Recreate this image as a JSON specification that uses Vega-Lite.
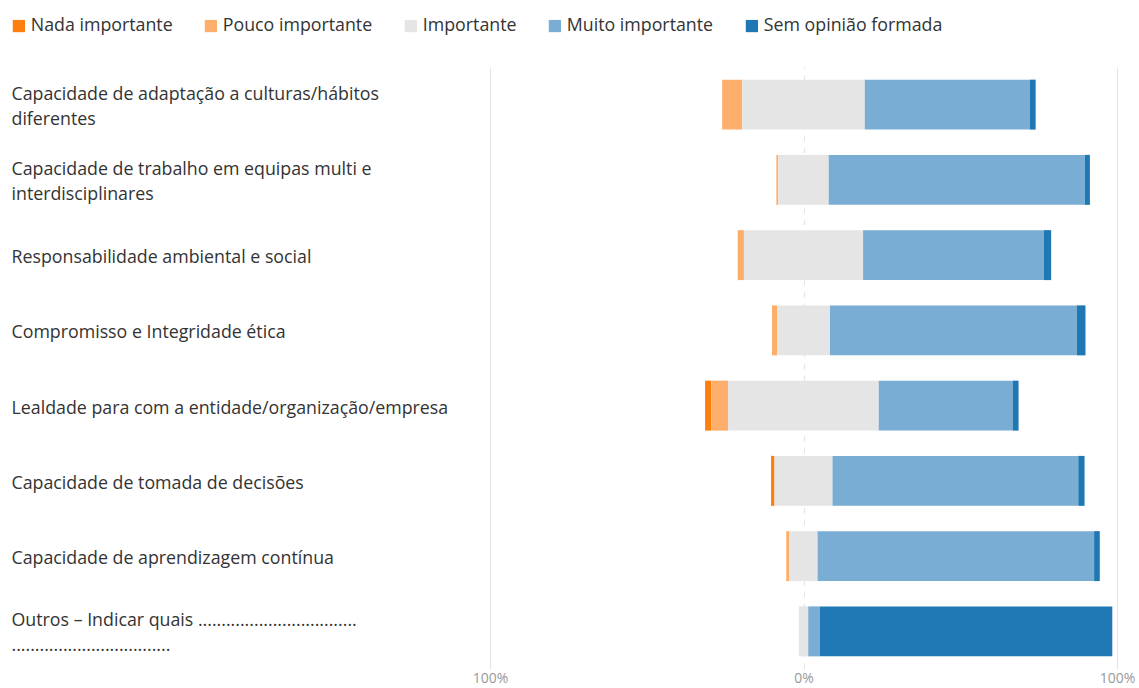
{
  "$schema": "https://vega.github.io/schema/vega-lite/v6.json",
  "width": 627,
  "height": 602,
  "autosize": "none",
  "padding": {"left": 490, "top": 67, "right": 22, "bottom": 19},
  "background": "white",
  "config": {
    "view": {"stroke": null},
    "font": "Open Sans"
  },
  "data": {
    "values": [
      {"q": "Capacidade de adaptação a culturas/hábitos|diferentes", "cat": "Pouco importante", "pct": 6.4},
      {"q": "Capacidade de adaptação a culturas/hábitos|diferentes", "cat": "Importante", "pct": 39.1},
      {"q": "Capacidade de adaptação a culturas/hábitos|diferentes", "cat": "Muito importante", "pct": 52.7},
      {"q": "Capacidade de adaptação a culturas/hábitos|diferentes", "cat": "Sem opinião formada", "pct": 1.8},
      {"q": "Capacidade de trabalho em equipas multi e|interdisciplinares", "cat": "Pouco importante", "pct": 0.6},
      {"q": "Capacidade de trabalho em equipas multi e|interdisciplinares", "cat": "Importante", "pct": 16.1},
      {"q": "Capacidade de trabalho em equipas multi e|interdisciplinares", "cat": "Muito importante", "pct": 81.7},
      {"q": "Capacidade de trabalho em equipas multi e|interdisciplinares", "cat": "Sem opinião formada", "pct": 1.6},
      {"q": "Responsabilidade ambiental e social", "cat": "Pouco importante", "pct": 2.0},
      {"q": "Responsabilidade ambiental e social", "cat": "Importante", "pct": 38.0},
      {"q": "Responsabilidade ambiental e social", "cat": "Muito importante", "pct": 57.7},
      {"q": "Responsabilidade ambiental e social", "cat": "Sem opinião formada", "pct": 2.3},
      {"q": "Compromisso e Integridade ética", "cat": "Pouco importante", "pct": 1.6},
      {"q": "Compromisso e Integridade ética", "cat": "Importante", "pct": 16.9},
      {"q": "Compromisso e Integridade ética", "cat": "Muito importante", "pct": 78.7},
      {"q": "Compromisso e Integridade ética", "cat": "Sem opinião formada", "pct": 2.8},
      {"q": "Lealdade para com a entidade/organização/empresa", "cat": "Nada importante", "pct": 2.0},
      {"q": "Lealdade para com a entidade/organização/empresa", "cat": "Pouco importante", "pct": 5.4},
      {"q": "Lealdade para com a entidade/organização/empresa", "cat": "Importante", "pct": 48.0},
      {"q": "Lealdade para com a entidade/organização/empresa", "cat": "Muito importante", "pct": 42.7},
      {"q": "Lealdade para com a entidade/organização/empresa", "cat": "Sem opinião formada", "pct": 1.9},
      {"q": "Capacidade de tomada de decisões", "cat": "Nada importante", "pct": 1.1},
      {"q": "Capacidade de tomada de decisões", "cat": "Importante", "pct": 18.5},
      {"q": "Capacidade de tomada de decisões", "cat": "Muito importante", "pct": 78.4},
      {"q": "Capacidade de tomada de decisões", "cat": "Sem opinião formada", "pct": 2.0},
      {"q": "Capacidade de aprendizagem contínua", "cat": "Pouco importante", "pct": 1.0},
      {"q": "Capacidade de aprendizagem contínua", "cat": "Importante", "pct": 9.0},
      {"q": "Capacidade de aprendizagem contínua", "cat": "Muito importante", "pct": 88.2},
      {"q": "Capacidade de aprendizagem contínua", "cat": "Sem opinião formada", "pct": 1.8},
      {"q": "Outros – Indicar quais ..................................|..................................", "cat": "Importante", "pct": 3.0},
      {"q": "Outros – Indicar quais ..................................|..................................", "cat": "Muito importante", "pct": 3.7},
      {"q": "Outros – Indicar quais ..................................|..................................", "cat": "Sem opinião formada", "pct": 93.3}
    ]
  },
  "transform": [
    {"calculate": "indexof(['Nada importante','Pouco importante','Importante','Muito importante','Sem opinião formada'], datum.cat)", "as": "ord"},
    {"calculate": "datum.ord < 2 ? datum.pct : (datum.ord == 2 ? datum.pct / 2 : 0)", "as": "esq"},
    {"joinaggregate": [{"op": "sum", "field": "esq", "as": "off"}], "groupby": ["q"]},
    {"stack": "pct", "groupby": ["q"], "sort": [{"field": "ord", "order": "ascending"}], "as": ["s0", "s1"]},
    {"calculate": "datum.s0 - datum.off", "as": "x0"},
    {"calculate": "datum.s1 - datum.off", "as": "x1"}
  ],
  "layer": [
    {
      "mark": {"type": "bar"},
      "encoding": {
        "y": {
          "field": "q", "type": "nominal", "sort": null,
          "scale": {"paddingInner": 0.336, "paddingOuter": 0.168},
          "axis": {
            "title": null, "domain": false, "ticks": false, "grid": false,
            "labelAlign": "left", "labelPadding": 479, "labelLimit": 470,
            "labelFontSize": 17.8, "labelColor": "#333333", "labelFont": "Open Sans",
            "labelExpr": "split(datum.label, '|')", "labelLineHeight": 25,
            "labelBaseline": "middle",
            "labelOffset": {"condition": {"test": "indexof(datum.label, '|') >= 0", "value": -10}, "value": 3}
          }
        },
        "x": {
          "field": "x0", "type": "quantitative",
          "scale": {"domain": [-100, 100], "nice": false},
          "axis": {
            "title": null, "values": [-100, 0, 100], "domain": false, "ticks": false,
            "labelExpr": "abs(datum.value) + '%'", "labelColor": "#999999", "labelFontSize": 14,
            "labelPadding": 2, "labelFont": "Open Sans", "labelFlush": false,
            "gridColor": "#e6e6e6", "gridWidth": 1.2,
            "gridDash": {"condition": {"test": "datum.value == 0", "value": [6, 6]}, "value": []}
          }
        },
        "x2": {"field": "x1"},
        "color": {
          "field": "cat", "type": "nominal",
          "scale": {
            "domain": ["Nada importante", "Pouco importante", "Importante", "Muito importante", "Sem opinião formada"],
            "range": ["#ff7f0e", "#fdae6b", "#e5e5e5", "#7aadd3", "#1f77b4"]
          },
          "legend": {
            "title": null, "orient": "none", "direction": "horizontal",
            "legendX": -480, "legendY": -50,
            "symbolType": "square", "symbolSize": 150, "symbolStrokeWidth": 0,
            "labelFontSize": 17.8, "labelColor": "#333333", "labelFont": "Open Sans",
            "labelLimit": 300, "columnPadding": 29, "labelOffset": 3
          }
        }
      }
    }
  ]
}
